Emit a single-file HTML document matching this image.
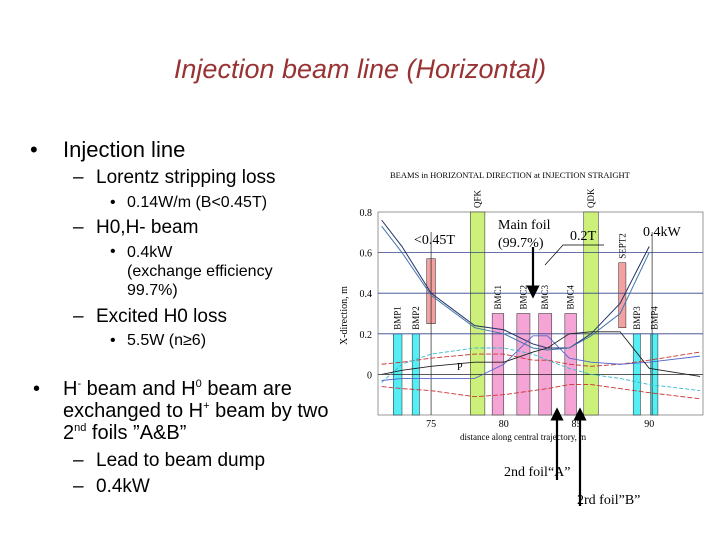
<!DOCTYPE html>
<html><head><meta charset="utf-8"><style>
body{margin:0;width:720px;height:540px;background:#fff;position:relative;overflow:hidden;font-family:"Liberation Sans",sans-serif;color:#000}
.t{position:absolute;white-space:nowrap}
.l1{font-size:22px}.l2{font-size:19px}.l3{font-size:16px}
sup{font-size:11px;line-height:0;vertical-align:8px}
</style></head><body>
<div class="t" style="left:0;width:720px;text-align:center;top:54px;font-size:27px;font-style:italic;color:#993333">Injection beam line (Horizontal)</div>

<div>
<div class="t l1" style="left:30px;top:137px">•</div><div class="t l1" style="left:63px;top:137px">Injection line</div>
<div class="t l2" style="left:73px;top:167px">–</div><div class="t l2" style="left:96px;top:167px">Lorentz stripping loss</div>
<div class="t l3" style="left:110px;top:194px">•</div><div class="t l3" style="left:127px;top:194px">0.14W/m (B&lt;0.45T)</div>
<div class="t l2" style="left:73px;top:217px">–</div><div class="t l2" style="left:96px;top:217px">H0,H- beam</div>
<div class="t l3" style="left:110px;top:243px">•</div><div class="t l3" style="left:127px;top:243px;line-height:19px">0.4kW<br>(exchange efficiency<br>99.7%)</div>
<div class="t l2" style="left:73px;top:306px">–</div><div class="t l2" style="left:96px;top:306px">Excited H0 loss</div>
<div class="t l3" style="left:110px;top:332px">•</div><div class="t l3" style="left:127px;top:332px">5.5W (n≥6)</div>
<div class="t" style="left:33px;top:378px;font-size:20px">•</div><div class="t" style="left:63px;top:378px;line-height:22px;font-size:20px">H<sup>-</sup> beam and H<sup>0</sup> beam are<br>exchanged to H<sup>+</sup> beam by two<br>2<sup>nd</sup> foils ”A&amp;B”</div>
<div class="t l2" style="left:73px;top:450px">–</div><div class="t l2" style="left:96px;top:450px">Lead to beam dump</div>
<div class="t l2" style="left:73px;top:476px">–</div><div class="t l2" style="left:96px;top:476px">0.4kW</div>
</div>

<svg id="chart" width="720" height="540" style="position:absolute;left:0;top:0" font-family="Liberation Serif,serif"></svg>
<script>
const xDomain=[71.35,93.7], yDomain=[-0.2,0.8];
const xTicks=[75,80,85,90], yTicks=[0,0.2,0.4,0.6,0.8];
const magnetNames=["BMP1","BMP2","","QFK","BMC1","BMC2","BMC3","BMC4","QDK","SEPT2","BMP3","BMP4"];
const magnetX0=[72.4,73.7,74.7,77.7,79.2,80.9,82.4,84.2,85.5,87.9,88.9,90.1];
const magnetX1=[73.0,74.2,75.3,78.7,80.0,81.8,83.3,85.0,86.5,88.4,89.4,90.6];
const magnetTop=[0.2,0.2,0.57,0.8,0.3,0.3,0.3,0.3,0.8,0.55,0.2,0.2];
const magnetBot=[-0.2,-0.2,0.25,-0.2,-0.2,-0.2,-0.2,-0.2,-0.2,0.23,-0.2,-0.2];
const magnetKind=["c","c","r","g","p","p","p","p","g","r","c","c"];
const traceX=[71.6,73,75,78,80,82,83,84.5,86,88,90,93.5];
const traceH1=[0.76,0.63,0.40,0.24,0.22,0.15,0.13,0.13,0.20,0.35,0.63,null];
const traceH2=[0.73,0.60,0.39,0.23,0.20,0.13,0.12,0.13,0.19,0.30,0.60,null];
const traceRed1=[0.05,0.06,0.08,0.10,0.10,0.07,0.07,0.05,0.04,0.05,0.07,0.11];
const traceRed2=[-0.06,-0.07,-0.08,-0.11,-0.10,-0.08,-0.07,-0.05,-0.05,-0.07,-0.09,-0.12];
const traceCyan=[-0.04,0.05,0.10,0.13,0.13,0.10,0.07,0.03,0.0,-0.02,-0.05,-0.08];
const traceBlue=[-0.03,-0.02,-0.02,-0.02,0.05,0.19,0.19,0.08,0.06,0.05,0.06,0.09];
const traceP=[0.0,0.02,0.04,0.06,0.06,0.11,0.13,0.20,0.21,0.21,0.03,-0.01];
const X0=378,X1=703,Y0=415,Y1=212;
const sx=v=>X0+(v-xDomain[0])/(xDomain[1]-xDomain[0])*(X1-X0);
const sy=v=>Y0-(v-yDomain[0])/(yDomain[1]-yDomain[0])*(Y0-Y1);
const svg=document.getElementById('chart');const NS="http://www.w3.org/2000/svg";
function mk(t,a,txt){const e=document.createElementNS(NS,t);for(const k in a)e.setAttribute(k,a[k]);if(txt!==undefined)e.textContent=txt;svg.appendChild(e);return e;}
let e;
e=mk('rect',{x:X0,y:Y1,width:X1-X0,height:Y0-Y1,fill:'#fff',stroke:'#555','stroke-width':0.6});


const col={c:'#55eef5',r:'#f2a0a0',g:'#ccf07a',p:'#f5a5d5'};
magnetNames.forEach((n,i)=>{
 e=mk('rect',{x:sx(magnetX0[i]),y:sy(magnetTop[i]),width:sx(magnetX1[i])-sx(magnetX0[i]),height:sy(magnetBot[i])-sy(magnetTop[i]),fill:col[magnetKind[i]],stroke:'#222','stroke-width':0.5});
 
 
 if(n){const cx=(sx(magnetX0[i])+sx(magnetX1[i]))/2+3;const ty=magnetKind[i]=='g'?sy(0.8)-4:sy(magnetTop[i])-4;
 e=mk('text',{x:0,y:0,'font-size':9,transform:`translate(${cx},${ty}) rotate(-90)`},n);
 
 }
});
yTicks.forEach(v=>{
 if(v>0&&v<0.8){e=mk('line',{x1:X0,x2:X1,y1:sy(v),y2:sy(v),stroke:'#334488','stroke-width':0.8});}
 if(v==0){e=mk('line',{x1:X0,x2:X1,y1:sy(0),y2:sy(0),stroke:'#222','stroke-width':0.8});}
 e=mk('text',{x:X0-6,y:sy(v)+4,'font-size':10,'text-anchor':'end'},String(v));
 
 
});
xTicks.forEach(v=>{
 e=mk('text',{x:sx(v),y:Y0+12,'font-size':10,'text-anchor':'middle'},String(v));
 
 
});
[75,90.2].forEach(v=>{e=mk('line',{x1:sx(v),x2:sx(v),y1:Y1+20,y2:Y0,stroke:'#222','stroke-width':0.7});});
function trace(arr,stroke,dash,name,w){
 const pts=[];arr.forEach((v,i)=>{if(v!==null)pts.push(sx(traceX[i])+','+sy(v));});
 e=mk('polyline',{points:pts.join(' '),fill:'none',stroke:stroke,'stroke-width':w||0.9,'stroke-dasharray':dash||''});
 
 
}
trace(traceH1,'#223366','', 'trace-h-minus-1',1);
trace(traceH2,'#4477aa','', 'trace-h-minus-2',1);
trace(traceRed1,'#cc3333','5,2','trace-red-upper');
trace(traceRed2,'#cc3333','5,2','trace-red-lower');
trace(traceCyan,'#33bbcc','4,2','trace-cyan');
trace(traceBlue,'#5566cc','', 'trace-blue');
trace(traceP,'#222','', 'trace-p');
const labels=[[390,178,'BEAMS in HORIZONTAL DIRECTION at INJECTION STRAIGHT',8.5,'chart-title'],[460,440,'distance along central trajectory, m',9,'x-axis-title'],
[414,244,'<0.45T',14,'annot-045t'],[498,229,'Main foil',14,'annot-main-foil'],[498,247,'(99.7%)',14,'annot-997'],[570,240,'0.2T',14,'annot-02t'],[643,236,'0.4kW',14,'annot-04kw'],
[504,476,'2nd foil“A”',14,'annot-foil-a'],[577,504,'2rd foil”B”',14,'annot-foil-b'],[457,370,'P',10,'label-p']];
labels.forEach(l=>{e=mk('text',{x:l[0],y:l[1],'font-size':l[3]},l[2]);});
e=mk('text',{x:0,y:0,'font-size':10,transform:'translate(347,345) rotate(-90)'},'X-direction, m');


mk('defs',{}).innerHTML='<marker id="ah" markerWidth="6" markerHeight="6" refX="3" refY="3" orient="auto"><path d="M0,0L6,3L0,6z" fill="#000"/></marker>';
[[533,247,533,292],[557,480,557,414],[580,506,580,414]].forEach((a,i)=>{e=mk('line',{x1:a[0],y1:a[1],x2:a[2],y2:a[3],stroke:'#000','stroke-width':2.2,'marker-end':'url(#ah)'});});
e=mk('polyline',{points:'545,265 563,245 604,245',fill:'none',stroke:'#000','stroke-width':0.7});


</script>
</body></html>
